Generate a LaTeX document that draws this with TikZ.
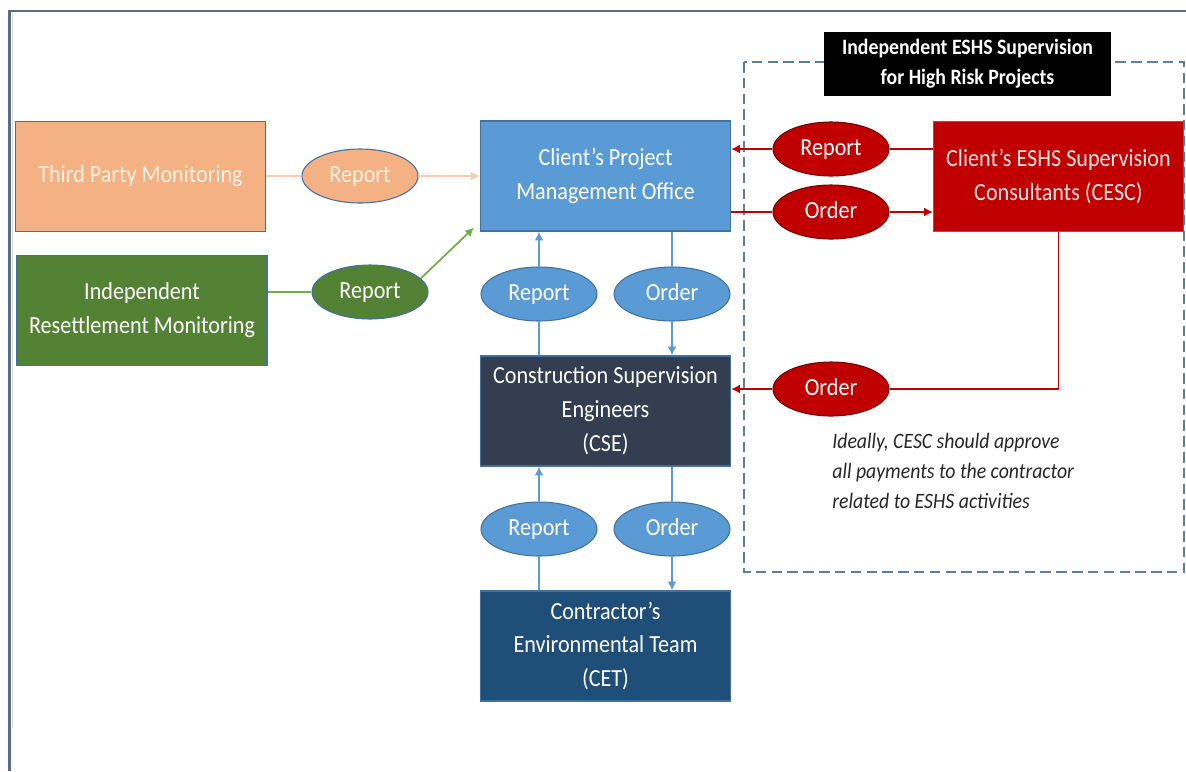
\documentclass[tikz,border=0pt]{standalone}
\usepackage{fontspec}
\setmainfont{Carlito}[FakeStretch=0.9]
\usetikzlibrary{arrows.meta, positioning, shapes.geometric, calc}
\definecolor{corange}{HTML}{F4B183}
\definecolor{clorange}{HTML}{F8CBAD}
\definecolor{ccream}{HTML}{FFF2E2}
\definecolor{cgreen}{HTML}{548235}
\definecolor{clgreen}{HTML}{70AD47}
\definecolor{cblue}{HTML}{5B9BD5}
\definecolor{cedge}{HTML}{41719C}
\definecolor{cslate}{HTML}{333F50}
\definecolor{cnavy}{HTML}{1F4E79}
\definecolor{cred}{HTML}{C00000}
\definecolor{cpink}{HTML}{FBE5E5}
\definecolor{cframe}{HTML}{5A6B85}
\definecolor{cdash}{HTML}{5E7E9C}
\tikzset{
  every picture/.style={font=\fontsize{14}{19.3}\selectfont},
  box/.style={draw=cedge, fill=#1, text=white, align=center, minimum width=5cm, minimum height=2.2cm, inner sep=2pt, line width=0.6pt},
  blob/.style={ellipse, draw=cedge, fill=#1, text=white, minimum width=2.32cm, minimum height=1.08cm, inner sep=0pt, text height=1.9ex, text depth=0.3ex, line width=0.6pt},
  link/.style={draw=#1, line width=1pt},
  arrow/.style={link=#1, -{Latex[length=5pt, width=5pt]}},
  note/.style={font=\fontsize{12.5}{17}\selectfont\itshape, text=black!85, align=left, inner sep=0pt},
}

\begin{document}
\begin{tikzpicture}[x=0.02cm, y=-0.02cm]
  \useasboundingbox (0,0) rectangle (1186,771);
  % frame
  \draw[cframe, line width=1.2pt] (9.5,771) -- (9.5,11) -- (1186,11);
  \draw[black!15, line width=1pt] (12.5,12) -- (12.5,728);
  % ESHS zone
  \draw[cdash, line width=0.9pt, dash pattern=on 6pt off 3pt] (744,62) rectangle (1184,572);
  \node[fill=black, text=white, font=\fontsize{12.5}{17}\selectfont\bfseries, align=center, minimum width=5.74cm, minimum height=1.28cm] (zone) at (967.5,64) {Independent ESHS Supervision\\for High Risk Projects};

  % boxes
  \node[box=corange, text=ccream] (tpm) at (140.5,176.5) {Third Party Monitoring};
  \node[box=cgreen] (irm) at (142,310.5) {Independent\\Resettlement Monitoring};
  \node[box=cblue] (pmo) at (605.5,176) {Client’s Project\\Management Office};
  \node[box=cslate] (cse) at (605.5,411) {Construction Supervision\\Engineers\\(CSE)};
  \node[box=cnavy] (cet) at (605.5,646) {Contractor’s\\Environmental Team\\(CET)};
  \node[box=cred, text=cpink] (cesc) at (1058.5,176.5) {Client’s ESHS Supervision\\Consultants (CESC)};

  % ellipses
  \node[blob=corange, text=ccream] (repO) at (360,176) {Report};
  \node[blob=cgreen] (repG) at (370,292) {Report};
  \node[blob=cblue] (repA) at (539,294) {Report};
  \node[blob=cblue] (ordA) at (672,294) {Order};
  \node[blob=cblue] (repB) at (539,529) {Report};
  \node[blob=cblue] (ordB) at (672,529) {Order};
  \node[blob=cred, draw=cred!60!black] (repR) at (831,149) {Report};
  \node[blob=cred, draw=cred!60!black] (ordR) at (831,212) {Order};
  \node[blob=cred, draw=cred!60!black] (ordC) at (831,389) {Order};

  \coordinate (pmoin) at ($(pmo.south west)+(-6,-4)$);

  % connectors
  \draw[link=clorange] (tpm.east |- repO) -- (repO.west);
  \draw[arrow=clorange] (repO.east) -- (pmo.west |- repO);
  \draw[link=clgreen] (irm.east |- repG) -- (repG.west);
  \draw[arrow=clgreen] (repG.15) -- (pmoin);
  \draw[link=cblue] (cse.north -| repA) -- (repA.south);
  \draw[arrow=cblue] (repA.north) -- (pmo.south -| repA);
  \draw[link=cblue] (pmo.south -| ordA) -- (ordA.north);
  \draw[arrow=cblue] (ordA.south) -- (cse.north -| ordA);
  \draw[link=cblue] (cet.north -| repB) -- (repB.south);
  \draw[arrow=cblue] (repB.north) -- (cse.south -| repB);
  \draw[link=cblue] (cse.south -| ordB) -- (ordB.north);
  \draw[arrow=cblue] (ordB.south) -- (cet.north -| ordB);
  \draw[link=cred] (cesc.west |- repR) -- (repR.east);
  \draw[arrow=cred] (repR.west) -- (pmo.east |- repR);
  \draw[link=cred] (pmo.east |- ordR) -- (ordR.west);
  \draw[arrow=cred] (ordR.east) -- (cesc.west |- ordR);
  \draw[link=cred] (cesc.south) |- (ordC.east);
  \draw[arrow=cred] (ordC.west) -- (cse.east |- ordC);

  \node[note, anchor=west] (memo) at (832,471) {Ideally, CESC should approve\\all payments to the contractor\\related to ESHS activities};
\end{tikzpicture}
\end{document}
